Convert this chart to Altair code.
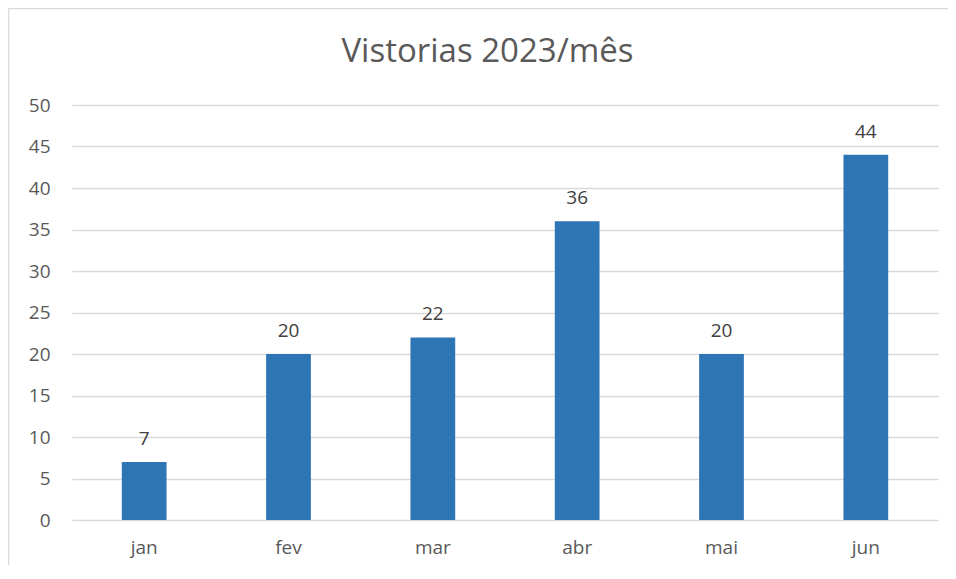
import altair as alt
import pandas as pd

meses = ["jan", "fev", "mar", "abr", "mai", "jun"]
vistorias = [7, 20, 22, 36, 20, 44]
titulo = ["Vistorias 2023/mês"]

df = pd.DataFrame({"mes": meses, "valor": vistorias})
df_title = pd.DataFrame({"t": titulo})

W, H = 866, 415

x = alt.X("mes:N", sort=meses, title=None,
          scale=alt.Scale(paddingInner=0.69, paddingOuter=0.345),
          axis=alt.Axis(labelAngle=0, labelFontSize=19, labelColor="#595959",
                        labelFont="Open Sans", labelPadding=18, ticks=False,
                        domain=False, grid=False))
y = alt.Y("valor:Q", title=None,
          scale=alt.Scale(domain=[0, 50]),
          axis=alt.Axis(values=list(range(0, 51, 5)), labelFontSize=19,
                        labelColor="#595959", labelFont="Open Sans",
                        labelPadding=22, ticks=False, domain=False,
                        gridColor="#d9d9d9", gridWidth=1.5))

bars = alt.Chart(df).mark_bar(color="#2E75B6").encode(x=x, y=y)

labels = alt.Chart(df).mark_text(
    baseline="alphabetic", dy=-17, fontSize=19, color="#404040", font="Open Sans"
).encode(x=alt.X("mes:N", sort=meses), y=alt.Y("valor:Q"), text="valor:Q")

title = alt.Chart(df_title).mark_text(
    baseline="alphabetic", align="center", fontSize=33, color="#595959",
    font="Open Sans", clip=False
).encode(x=alt.value(415.5), y=alt.value(-43), text="t:N")

frame_left = alt.Chart(df_title).mark_rule(color="#d9d9d9", strokeWidth=1.5, clip=False).encode(
    x=alt.value(-63.5), y=alt.value(-96.5), y2=alt.value(H + 200))
frame_top = alt.Chart(df_title).mark_rule(color="#d9d9d9", strokeWidth=1.5, clip=False).encode(
    x=alt.value(-63.5), x2=alt.value(W + 200), y=alt.value(-96.5))

chart = alt.layer(bars, labels, title, frame_left, frame_top).properties(
    width=W, height=H,
    background="white",
    autosize=alt.AutoSizeParams(type="none"),
    padding={"left": 64, "top": 97, "right": 10, "bottom": 45},
).configure_view(strokeWidth=0, stroke="transparent"
).configure_axis(domain=False, ticks=False)

chart.save("out.html", embed_options={"renderer": "svg", "actions": False})
